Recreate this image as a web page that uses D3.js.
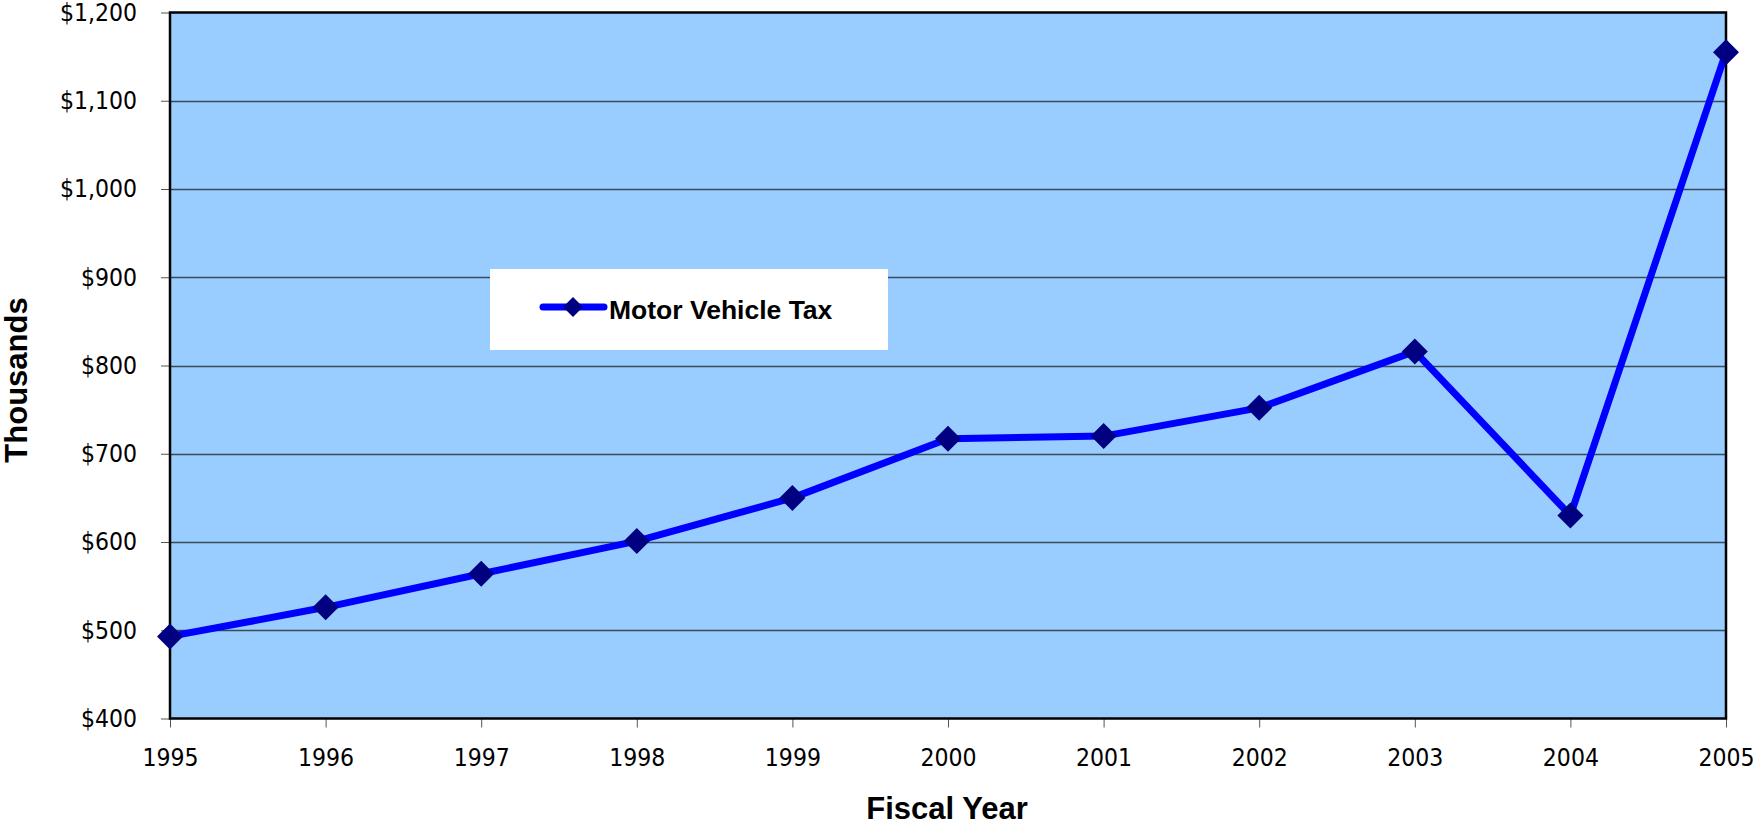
<!DOCTYPE html>
<html>
<head>
<meta charset="utf-8">
<script src="https://cdn.jsdelivr.net/npm/d3@7"></script>
<style>
  body { margin: 0; background: #fff; }
  svg { display: block; }
</style>
</head>
<body>
<div id="chart"></div>
<script>
// Motor Vehicle Tax revenue, thousands of dollars
const years = [1995, 1996, 1997, 1998, 1999, 2000, 2001, 2002, 2003, 2004, 2005];
const taxValues = [493, 526, 564, 601, 650, 717, 720, 752, 816, 630, 1155];
const yTicks = [400, 500, 600, 700, 800, 900, 1000, 1100, 1200];

const width = 1753, height = 825;
const margin = { left: 170, right: 27, top: 12, bottom: 106 };

const svg = d3.select('#chart').append('svg')
    .attr('width', width)
    .attr('height', height);

const x = d3.scaleLinear()
    .domain([1995, 2005])
    .range([margin.left, width - margin.right]);

const y = d3.scaleLinear()
    .domain([400, 1200])
    .range([height - margin.bottom - 0.5, margin.top + 0.5]);

const labelFont = '"DejaVu Sans Condensed", "DejaVu Sans", sans-serif';
const titleFont = '"Liberation Sans", Arial, sans-serif';

// plot background
svg.append('rect')
    .attr('x', x(1995))
    .attr('y', y(1200))
    .attr('width', x(2005) - x(1995))
    .attr('height', y(400) - y(1200))
    .attr('fill', '#99ccff');

// gridlines
svg.append('g')
    .selectAll('line')
    .data(yTicks.slice(1, -1))
    .enter().append('line')
    .attr('x1', x(1995))
    .attr('x2', x(2005))
    .attr('y1', d => Math.round(y(d)) + 0.5)
    .attr('y2', d => Math.round(y(d)) + 0.5)
    .attr('stroke', '#3a4a5a')
    .attr('stroke-width', 1.3);

// axes
const yAxis = d3.axisLeft(y)
    .tickValues(yTicks)
    .tickSize(9)
    .tickPadding(24)
    .tickFormat(d => '$' + d3.format(',')(d));

const gy = svg.append('g')
    .attr('transform', `translate(${x(1995)},0)`)
    .call(yAxis);
gy.select('.domain').remove();
gy.selectAll('.tick line').attr('stroke', '#555');
gy.selectAll('.tick text')
    .attr('font-family', labelFont)
    .attr('font-size', 24.5)
    .attr('fill', '#000');

const xAxis = d3.axisBottom(x)
    .tickValues(years)
    .tickSize(9)
    .tickPadding(21)
    .tickFormat(d3.format('d'));

const gx = svg.append('g')
    .attr('transform', `translate(0,${y(400)})`)
    .call(xAxis);
gx.select('.domain').remove();
gx.selectAll('.tick line').attr('stroke', '#555');
gx.selectAll('.tick text')
    .attr('font-family', labelFont)
    .attr('font-size', 24.5)
    .attr('fill', '#000');

// plot border
svg.append('rect')
    .attr('x', x(1995))
    .attr('y', y(1200))
    .attr('width', x(2005) - x(1995))
    .attr('height', y(400) - y(1200))
    .attr('fill', 'none')
    .attr('stroke', '#000')
    .attr('stroke-width', 2.5);

// series line
const data = years.map((yr, i) => ({ year: yr, value: taxValues[i] }));

const line = d3.line()
    .x(d => x(d.year))
    .y(d => y(d.value));

svg.append('path')
    .datum(data)
    .attr('d', line)
    .attr('fill', 'none')
    .attr('stroke', '#0000ff')
    .attr('stroke-width', 7)
    .attr('stroke-linejoin', 'round');

const diamond = d3.symbol().type(d3.symbolSquare).size(2 * 13 * 13);

svg.append('g')
    .selectAll('path')
    .data(data)
    .enter().append('path')
    .attr('d', diamond)
    .attr('transform', d => `translate(${x(d.year)},${y(d.value)}) rotate(45)`)
    .attr('fill', '#000080');

// legend
const legend = svg.append('g');
legend.append('rect')
    .attr('x', 490)
    .attr('y', 269)
    .attr('width', 398)
    .attr('height', 81)
    .attr('fill', '#fff');
legend.append('line')
    .attr('x1', 543)
    .attr('x2', 604)
    .attr('y1', 307)
    .attr('y2', 307)
    .attr('stroke', '#0000ff')
    .attr('stroke-width', 7)
    .attr('stroke-linecap', 'round');
legend.append('path')
    .attr('d', d3.symbol().type(d3.symbolSquare).size(2 * 10 * 10))
    .attr('transform', 'translate(573,307) rotate(45)')
    .attr('fill', '#000080');
legend.append('text')
    .attr('x', 609)
    .attr('y', 319)
    .attr('font-family', titleFont)
    .attr('font-weight', 'bold')
    .attr('font-size', 26.5)
    .text('Motor Vehicle Tax');

// axis titles
svg.append('text')
    .attr('x', 947)
    .attr('y', 819)
    .attr('text-anchor', 'middle')
    .attr('font-family', titleFont)
    .attr('font-weight', 'bold')
    .attr('font-size', 31)
    .text('Fiscal Year');

svg.append('text')
    .attr('transform', 'translate(27,380) rotate(-90)')
    .attr('text-anchor', 'middle')
    .attr('font-family', titleFont)
    .attr('font-weight', 'bold')
    .attr('font-size', 31)
    .text('Thousands');
</script>
</body>
</html>
